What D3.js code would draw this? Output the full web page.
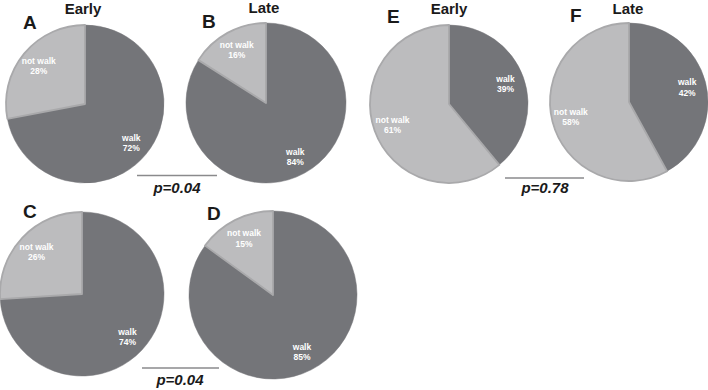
<!DOCTYPE html>
<html>
<head>
<meta charset="utf-8">
<script src="https://cdn.jsdelivr.net/npm/d3@7"></script>
<style>
  html, body { margin: 0; padding: 0; background: #fff; }
  svg { display: block; }
</style>
</head>
<body>
<svg id="chart" width="708" height="390"></svg>
<script>
// ---- data ----
const panels = ["A", "B", "C", "D", "E", "F"];
const titles = ["Early", "Late", "", "", "Early", "Late"];
const categories = ["walk", "not walk"];
const walkPct = [72, 84, 74, 85, 39, 42];
const notWalkPct = [28, 16, 26, 15, 61, 58];
const pLabels = ["p=0.04", "p=0.78", "p=0.04"];

// ---- layout (positions / sizes) ----
const layout = [
  { cx: 85,  cy: 104, r: 79, lx: 23,  ly: 29,  tx: 83,  ty: 14 },
  { cx: 266, cy: 103, r: 80, lx: 202, ly: 28,  tx: 264, ty: 13 },
  { cx: 82,  cy: 294, r: 82, lx: 23,  ly: 218, tx: 0,   ty: 0 },
  { cx: 273, cy: 295, r: 84, lx: 207, ly: 220, tx: 0,   ty: 0 },
  { cx: 449, cy: 104, r: 79, lx: 387, ly: 23,  tx: 449, ty: 14 },
  { cx: 629, cy: 102, r: 79, lx: 570, ly: 22,  tx: 628, ty: 14 }
];
const pLayout = [
  { x1: 137, x2: 217, y: 175.5, tx: 177, ty: 193 },
  { x1: 505, x2: 584, y: 178,   tx: 545, ty: 193 },
  { x1: 142, x2: 219, y: 368,   tx: 180, ty: 385 }
];

const colors = d3.scaleOrdinal().domain(categories).range(["#747579", "#bcbcbe"]);
const strokes = d3.scaleOrdinal().domain(categories).range(["#747579", "#a9a9ab"]);

const svg = d3.select("#chart");
const pie = d3.pie().sort(null).value(d => d.value);

panels.forEach((p, i) => {
  const L = layout[i];
  const data = [
    { cat: categories[0], value: walkPct[i] },
    { cat: categories[1], value: notWalkPct[i] }
  ];
  const arcs = pie(data);
  const arc = d3.arc().innerRadius(0).outerRadius(L.r);
  const labelArc = d3.arc().innerRadius(L.r * 0.76).outerRadius(L.r * 0.76);
  const g = svg.append("g").attr("transform", `translate(${L.cx},${L.cy})`);

  g.selectAll("path.slice").data(arcs).join("path")
    .attr("class", "slice")
    .attr("d", arc)
    .attr("fill", d => colors(d.data.cat))
    .attr("stroke", d => strokes(d.data.cat))
    .attr("stroke-width", d => d.data.cat === "walk" ? 0.5 : 1.8)
    .attr("stroke-linejoin", "round");

  const lbl = g.selectAll("text.lbl").data(arcs).join("text")
    .attr("class", "lbl")
    .attr("transform", d => `translate(${labelArc.centroid(d)})`)
    .attr("text-anchor", "middle")
    .attr("font-family", "Liberation Sans, Arial, sans-serif")
    .attr("font-weight", "bold")
    .attr("font-size", "8.5px")
    .attr("fill", "#ffffff");
  lbl.append("tspan").attr("x", 0).attr("dy", "-0.2em").text(d => d.data.cat);
  lbl.append("tspan").attr("x", 0).attr("dy", "1.2em").text(d => d.data.value + "%");

  svg.append("text")
    .attr("x", L.lx).attr("y", L.ly)
    .attr("font-family", "Liberation Sans, Arial, sans-serif")
    .attr("font-weight", "bold")
    .attr("font-size", "19px")
    .attr("fill", "#1a1a1a")
    .text(p);

  if (titles[i]) {
    svg.append("text")
      .attr("x", L.tx).attr("y", L.ty)
      .attr("text-anchor", "middle")
      .attr("font-family", "Liberation Sans, Arial, sans-serif")
      .attr("font-weight", "bold")
      .attr("font-size", "15px")
      .attr("fill", "#1a1a1a")
      .text(titles[i]);
  }
});

pLabels.forEach((t, i) => {
  const P = pLayout[i];
  svg.append("line")
    .attr("x1", P.x1).attr("x2", P.x2)
    .attr("y1", P.y).attr("y2", P.y)
    .attr("stroke", "#8a8a8c").attr("stroke-width", 1.5);
  svg.append("text")
    .attr("x", P.tx).attr("y", P.ty)
    .attr("text-anchor", "middle")
    .attr("font-family", "Liberation Sans, Arial, sans-serif")
    .attr("font-weight", "bold")
    .attr("font-style", "italic")
    .attr("font-size", "15px")
    .attr("fill", "#1a1a1a")
    .text(t);
});
</script>
</body>
</html>
